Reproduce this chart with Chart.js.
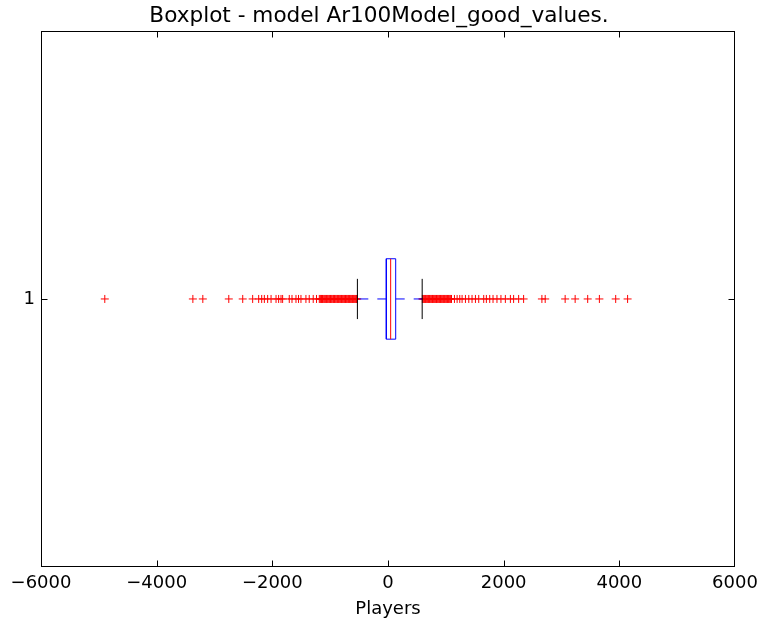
<!DOCTYPE html>
<html>
<head>
<meta charset="utf-8">
<script src="https://cdn.jsdelivr.net/npm/chart.js@4"></script>
<style>
  html, body { margin: 0; padding: 0; background: #fff; }
  #wrap { width: 758px; height: 625px; }
</style>
</head>
<body>
<div id="wrap"><canvas id="chart" width="758" height="625"></canvas></div>
<script>
// boxplot statistics, one entry per category
const categories = ["1"];
const q1 = [-29];
const medians = [46];
const q3 = [133];
const whiskerLow = [-529];
const whiskerHigh = [591];

// fliers
const outliersLow = [
  -4897, -3374, -3202, -2753, -2512, -2340, -2236, -2184, -2138, -2081,
  -2022, -1936, -1891, -1850, -1822, -1707, -1660, -1591, -1547, -1505,
  -1419, -1362, -1293, -1236, -1188, -1172, -1160, -1149, -1133, -1120,
  -1104, -1091, -1077, -1062, -1050, -1036, -1021, -1008, -995, -981,
  -968, -952, -940, -926, -913, -899, -884, -871, -858, -844,
  -830, -817, -803, -790, -776, -762, -749, -735, -721, -708,
  -694, -681, -667, -653, -640, -626, -612, -599, -585, -572,
  -558, -545, -532
];
const outliersHigh = [
  594, 607, 620, 634, 647, 661, 675, 688, 702, 716,
  729, 743, 757, 770, 784, 798, 811, 825, 839, 852,
  866, 880, 893, 907, 921, 934, 948, 962, 975, 989,
  1003, 1016, 1030, 1044, 1057, 1071, 1085, 1098, 1149, 1195,
  1241, 1281, 1339, 1397, 1453, 1512, 1569, 1655, 1701, 1759,
  1816, 1884, 1953, 2029, 2116, 2172, 2259, 2345, 2661, 2718,
  3063, 3236, 3453, 3655, 3937, 4143
];

const xTicks = [-6000, -4000, -2000, 0, 2000, 4000, 6000];

const boxHalf = 0.075;
const capHalf = 0.0375;
const FONT = "'DejaVu Sans', sans-serif";

const datasets = [];
categories.forEach((c, i) => {
  const y = i + 1;
  datasets.push({
    label: 'caps', order: 0, borderColor: '#000000', borderWidth: 1,
    showLine: true, pointRadius: 0,
    data: [{x: whiskerLow[i], y: y - capHalf}, {x: whiskerLow[i], y: y + capHalf}]
  });
  datasets.push({
    label: 'caps', order: 0, borderColor: '#000000', borderWidth: 1,
    showLine: true, pointRadius: 0,
    data: [{x: whiskerHigh[i], y: y - capHalf}, {x: whiskerHigh[i], y: y + capHalf}]
  });
  datasets.push({
    label: 'median', order: 1, borderColor: '#ff0000', borderWidth: 1,
    showLine: true, pointRadius: 0,
    data: [{x: medians[i], y: y - boxHalf}, {x: medians[i], y: y + boxHalf}]
  });
  datasets.push({
    label: 'box', order: 2, borderColor: '#0000ff', borderWidth: 1,
    showLine: true, pointRadius: 0,
    data: [
      {x: q1[i], y: y - boxHalf}, {x: q3[i], y: y - boxHalf},
      {x: q3[i], y: y + boxHalf}, {x: q1[i], y: y + boxHalf},
      {x: q1[i], y: y - boxHalf}
    ]
  });
  datasets.push({
    label: 'whisker', order: 3, borderColor: '#0000ff', borderWidth: 1,
    borderDash: [9, 9], showLine: true, pointRadius: 0,
    data: [{x: q1[i], y: y}, {x: whiskerLow[i], y: y}]
  });
  datasets.push({
    label: 'whisker', order: 3, borderColor: '#0000ff', borderWidth: 1,
    borderDash: [9, 9], showLine: true, pointRadius: 0,
    data: [{x: q3[i], y: y}, {x: whiskerHigh[i], y: y}]
  });
  datasets.push({
    label: 'fliers', order: 4, borderColor: '#ff0000', backgroundColor: '#ff0000',
    borderWidth: 1, pointStyle: 'cross', pointRadius: 4, showLine: false,
    data: outliersLow.concat(outliersHigh).map(v => ({x: v, y: y}))
  });
});

// matplotlib-like frame with inward ticks
const framePlugin = {
  id: 'frame',
  afterDatasetsDraw(chart) {
    const {ctx, chartArea: a, scales: {x, y}} = chart;
    const L = Math.round(a.left) + 0.5, R = Math.round(a.right) - 0.5;
    const T = Math.round(a.top) + 0.5, B = Math.round(a.bottom) - 0.5;
    ctx.save();
    ctx.strokeStyle = '#000';
    ctx.lineWidth = 1;
    ctx.strokeRect(L, T, R - L, B - T);
    ctx.beginPath();
    xTicks.forEach(v => {
      const px = Math.round(x.getPixelForValue(v)) + 0.5;
      if (px < L + 1 || px > R - 1) return;
      ctx.moveTo(px, B); ctx.lineTo(px, B - 6);
      ctx.moveTo(px, T); ctx.lineTo(px, T + 6);
    });
    categories.forEach((c, i) => {
      const py = Math.round(y.getPixelForValue(i + 1)) + 0.5;
      ctx.moveTo(L, py); ctx.lineTo(L + 6, py);
      ctx.moveTo(R, py); ctx.lineTo(R - 6, py);
    });
    ctx.stroke();
    ctx.restore();
  }
};

new Chart(document.getElementById('chart'), {
  type: 'scatter',
  data: { datasets },
  plugins: [framePlugin],
  options: {
    responsive: false,
    animation: false,
    devicePixelRatio: 1,
    layout: { padding: { left: 0, right: 0, top: 0, bottom: 0 } },
    plugins: {
      legend: { display: false },
      tooltip: { enabled: false },
      title: {
        display: true,
        text: 'Boxplot - model Ar100Model_good_values.',
        color: '#000',
        font: { family: FONT, size: 21.6, weight: 'normal', lineHeight: 1.2 },
        padding: { top: 3, bottom: 2 }
      }
    },
    scales: {
      x: {
        type: 'linear',
        min: -6000, max: 6000,
        afterBuildTicks: s => { s.ticks = xTicks.map(v => ({value: v})); },
        afterFit: s => { s.height = 58; s.paddingLeft = 0; s.paddingRight = 23; },
        grid: { display: false, drawTicks: false },
        border: { display: false },
        ticks: {
          color: '#000', padding: 6,
          font: { family: FONT, size: 18 },
          callback: v => (v < 0 ? '\u2212' + Math.abs(v) : String(v))
        },
        title: {
          display: true, text: 'Players', color: '#000',
          font: { family: FONT, size: 18 },
          padding: { top: 0, bottom: 5 }
        }
      },
      y: {
        type: 'linear',
        min: 0.5, max: 1.5,
        afterBuildTicks: s => { s.ticks = categories.map((c, i) => ({value: i + 1})); },
        afterFit: s => { s.width = 41; },
        grid: { display: false, drawTicks: false },
        border: { display: false },
        ticks: {
          color: '#000', padding: 6,
          font: { family: FONT, size: 18 },
          callback: (v) => categories[Math.round(v) - 1] ?? ''
        }
      }
    }
  }
});
</script>
</body>
</html>
